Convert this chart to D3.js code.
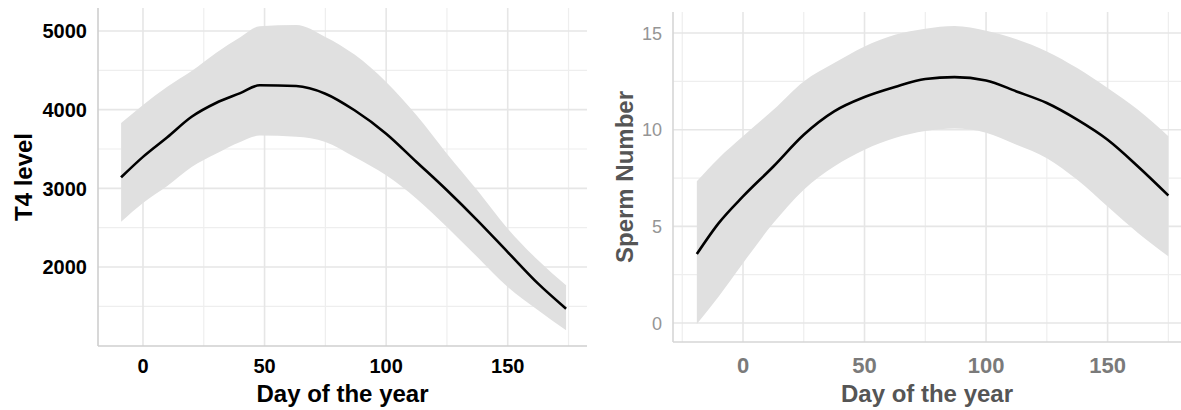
<!DOCTYPE html>
<html><head><meta charset="utf-8">
<script src="https://cdn.jsdelivr.net/npm/d3@7"></script>
<style>body{margin:0;background:#fff}svg{display:block}text{font-family:"Liberation Sans",Arial,sans-serif}</style>
</head><body>
<svg id="c" width="1181" height="410"></svg>
<script>
// ---- Left panel: T4 level ----
const t4Day   = [-9, 0, 10, 20, 30, 40, 48, 63, 75, 87, 100, 112.5, 125, 137.5, 150, 162.5, 174];
const t4Fit   = [3140, 3400, 3650, 3910, 4085, 4210, 4310, 4300, 4203, 3992, 3695, 3335, 2975, 2593, 2190, 1788, 1470];
const t4Upper = [3830, 4060, 4290, 4490, 4720, 4920, 5060, 5075, 4925, 4700, 4352, 3928, 3441, 2975, 2487, 2085, 1767];
const t4Lower = [2575, 2815, 3030, 3270, 3440, 3590, 3670, 3655, 3589, 3398, 3165, 2869, 2508, 2127, 1746, 1449, 1195];
const t4YTicks = [2000, 3000, 4000, 5000];
const t4YMinor = [1500, 2500, 3500, 4500];
// ---- Right panel: Sperm Number ----
const spDay   = [-19, -10, 0, 12.5, 25, 37.5, 50, 62.5, 75, 87, 100, 112.5, 125, 137.5, 150, 162.5, 175];
const spFit   = [3.57, 5.17, 6.55, 8.1, 9.74, 10.95, 11.69, 12.21, 12.62, 12.72, 12.55, 11.98, 11.38, 10.52, 9.48, 8.1, 6.6];
const spUpper = [7.33, 8.53, 9.66, 11.03, 12.5, 13.45, 14.31, 14.91, 15.22, 15.36, 15.12, 14.68, 14.05, 13.19, 12.16, 11.03, 9.66];
const spLower = [-0.05, 1.38, 3.1, 5.17, 6.9, 8.1, 8.97, 9.57, 9.93, 10.06, 9.85, 9.22, 8.53, 7.41, 6.03, 4.66, 3.45];
const spYTicks = [0, 5, 10, 15];
const spYMinor = [2.5, 7.5, 12.5];
const xTicks = [0, 50, 100, 150];
const xMinorL = [25, 75, 125, 175];
const xMinorR = [-25, 25, 75, 125, 175];

const svg = d3.select("#c");

function panel(cfg) {
  const x = d3.scaleLinear().domain(cfg.xDom).range(cfg.xRange);
  const y = d3.scaleLinear().domain(cfg.yDom).range(cfg.yRange);
  const g = svg.append("g");
  const [x0, x1] = cfg.xRange, [y1, y0] = cfg.yRange;
  // minor grid
  g.selectAll(".gxm").data(cfg.xMinor).join("line")
    .attr("x1", d => x(d)).attr("x2", d => x(d)).attr("y1", y0).attr("y2", y1)
    .attr("stroke", "#eeeeee").attr("stroke-width", 1.2);
  g.selectAll(".gym").data(cfg.yMinor).join("line")
    .attr("x1", x0).attr("x2", x1).attr("y1", d => y(d)).attr("y2", d => y(d))
    .attr("stroke", "#eeeeee").attr("stroke-width", 1.2);
  // major grid
  g.selectAll(".gx").data(xTicks).join("line")
    .attr("x1", d => x(d)).attr("x2", d => x(d)).attr("y1", y0).attr("y2", y1)
    .attr("stroke", "#e6e6e6").attr("stroke-width", 1.6);
  g.selectAll(".gy").data(cfg.yTicks).join("line")
    .attr("x1", x0).attr("x2", x1).attr("y1", d => y(d)).attr("y2", d => y(d))
    .attr("stroke", "#e6e6e6").attr("stroke-width", 1.6);
  // ribbon
  const idx = d3.range(cfg.day.length);
  const area = d3.area().x(i => x(cfg.day[i])).y0(i => y(cfg.lower[i])).y1(i => y(cfg.upper[i]))
    .curve(d3.curveMonotoneX);
  g.append("path").attr("d", area(idx)).attr("fill", "#e0e0e0");
  const line = d3.line().x(i => x(cfg.day[i])).y(i => y(cfg.fit[i])).curve(d3.curveMonotoneX);
  g.append("path").attr("d", line(idx)).attr("fill", "none").attr("stroke", "#000").attr("stroke-width", 2.6);
  // axis lines
  g.append("line").attr("x1", x0).attr("x2", x0).attr("y1", y0).attr("y2", y1)
    .attr("stroke", cfg.axisCol).attr("stroke-width", 1.6);
  g.append("line").attr("x1", x0).attr("x2", x1).attr("y1", y1).attr("y2", y1)
    .attr("stroke", cfg.axisCol).attr("stroke-width", 1.6);
  // tick labels
  g.selectAll(".ty").data(cfg.yTicks).join("text")
    .attr("x", x0 - 11).attr("y", d => y(d)).attr("dy", "0.36em").attr("text-anchor", "end")
    .attr("font-size", cfg.yTickSize).attr("font-weight", cfg.yTickWeight).attr("fill", cfg.yTickCol)
    .text(d => d);
  g.selectAll(".tx").data(xTicks).join("text")
    .attr("x", d => x(d)).attr("y", 373).attr("text-anchor", "middle")
    .attr("font-size", cfg.xTickSize).attr("font-weight", "bold").attr("fill", cfg.xTickCol)
    .text(d => d);
  // titles
  g.append("text").attr("x", (x0 + x1) / 2).attr("y", 402).attr("text-anchor", "middle")
    .attr("font-size", 24).attr("font-weight", "bold").attr("fill", cfg.titleCol).text("Day of the year");
  g.append("text").attr("transform", `translate(${cfg.yTitleX},${(y0 + y1) / 2}) rotate(-90)`)
    .attr("text-anchor", "middle").attr("font-size", 24).attr("font-weight", "bold")
    .attr("fill", cfg.titleCol).text(cfg.yTitle);
}

panel({
  day: t4Day, fit: t4Fit, upper: t4Upper, lower: t4Lower,
  xDom: [-18.5, 182.6], xRange: [98, 587], yDom: [996, 5292], yRange: [346, 8],
  yTicks: t4YTicks, yMinor: t4YMinor, xMinor: xMinorL,
  axisCol: "#cfcfcf", yTickSize: 20, yTickWeight: "bold", yTickCol: "#000",
  xTickSize: 20, xTickCol: "#000", titleCol: "#000", yTitle: "T4 level", yTitleX: 32
});
panel({
  day: spDay, fit: spFit, upper: spUpper, lower: spLower,
  xDom: [-28.8, 180.2], xRange: [673, 1181], yDom: [-0.98, 16.09], yRange: [342, 12],
  yTicks: spYTicks, yMinor: spYMinor, xMinor: xMinorR,
  axisCol: "#d6d6d6", yTickSize: 18, yTickWeight: "normal", yTickCol: "#959595",
  xTickSize: 22, xTickCol: "#7a7a7a", titleCol: "#555555", yTitle: "Sperm Number", yTitleX: 633
});
</script>
</body></html>
